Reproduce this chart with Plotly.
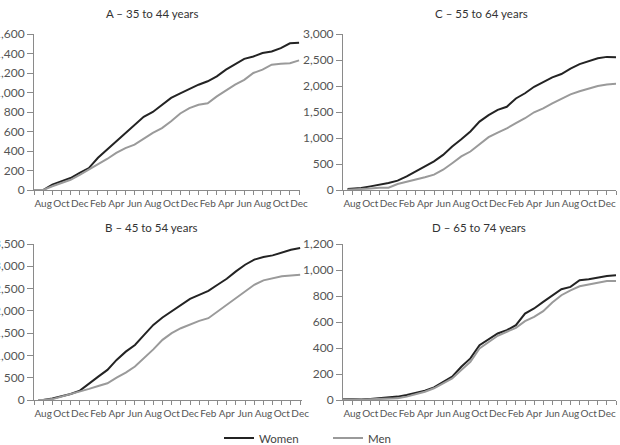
import plotly.graph_objects as go

# ---- data (cumulative counts by month; month 0 = July of year 1) ----
tick_months = list(range(0, 31))
tick_names = ["Jul", "Aug", "Sep", "Oct", "Nov", "Dec", "Jan", "Feb", "Mar", "Apr", "May", "Jun",
              "Jul", "Aug", "Sep", "Oct", "Nov", "Dec", "Jan", "Feb", "Mar", "Apr", "May", "Jun",
              "Jul", "Aug", "Sep", "Oct", "Nov", "Dec", "Jan"]

months_A = list(range(0, 30))
women_A = [0, 0, 55, 90, 123, 175, 225, 330, 415, 500, 585, 670, 750, 800, 875, 945, 990, 1035,
           1080, 1115, 1165, 1235, 1290, 1345, 1370, 1405, 1420, 1455, 1505, 1510]
men_A = [0, 0, 38, 72, 105, 155, 210, 260, 318, 380, 430, 465, 525, 585, 635, 705, 785, 840,
         875, 890, 960, 1020, 1080, 1130, 1200, 1235, 1285, 1295, 1300, 1330]

months_B = [0.5] + list(range(1, 30))
women_B = [0, 0, 35, 90, 135, 210, 375, 525, 675, 900, 1085, 1235, 1460, 1685, 1850, 1985, 2135,
           2270, 2360, 2450, 2585, 2720, 2885, 3035, 3150, 3210, 3245, 3310, 3370, 3410]
men_B = [0, 0, 20, 75, 135, 190, 250, 315, 375, 500, 615, 750, 935, 1135, 1350, 1500, 1610,
         1700, 1775, 1835, 1985, 2135, 2285, 2435, 2585, 2685, 2735, 2775, 2795, 2810]

months_C = [0.5] + list(range(1, 31))
women_C = [20, 25, 38, 70, 100, 135, 180, 260, 360, 450, 550, 675, 835, 975, 1125, 1315, 1440,
           1540, 1600, 1760, 1860, 1985, 2080, 2165, 2230, 2335, 2420, 2485, 2535, 2560, 2555]
men_C = [5, 8, 20, 30, 45, 45, 115, 155, 200, 245, 295, 390, 515, 645, 740, 885, 1015, 1105,
         1185, 1285, 1380, 1495, 1570, 1665, 1750, 1840, 1900, 1955, 2000, 2030, 2045]

months_D = list(range(0, 31))
women_D = [8, 5, 3, 8, 13, 18, 26, 38, 56, 72, 97, 141, 179, 256, 320, 422, 468, 512, 537, 576,
           665, 704, 755, 806, 852, 870, 921, 929, 941, 954, 959]
men_D = [5, 3, 0, 5, 8, 10, 13, 26, 44, 64, 90, 128, 166, 230, 294, 396, 448, 494, 525, 555,
         606, 640, 683, 750, 806, 844, 875, 890, 903, 916, 916]

titles = ["A \u2013 35 to 44 years", "B \u2013 45 to 54 years",
          "C \u2013 55 to 64 years", "D \u2013 65 to 74 years"]
y_ticks_A = [0, 200, 400, 600, 800, 1000, 1200, 1400, 1600]
y_ticks_B = [0, 500, 1000, 1500, 2000, 2500, 3000, 3500]
y_ticks_C = [0, 500, 1000, 1500, 2000, 2500, 3000]
y_ticks_D = [0, 200, 400, 600, 800, 1000, 1200]

# ---- figure ----
W, H = 620, 445
FONT = "Lato"
WOMEN_COLOR = "#232323"
MEN_COLOR = "#9a9a9a"
AXIS_COLOR = "#8a8a8a"
TEXT_COLOR = "#555555"


def px_x(p):
    return p / W


def px_y(p):
    return 1 - p / H


panels = [
    ("x", "y", months_A, women_A, men_A, y_ticks_A, [0, 29.1], (34, 300), (34, 190), (152, 14)),
    ("x2", "y2", months_C, women_C, men_C, y_ticks_C, [0, 30], (343, 616), (34, 190), (481, 14)),
    ("x3", "y3", months_B, women_B, men_B, y_ticks_B, [0, 29.2], (34, 302), (244, 400), (151, 228)),
    ("x4", "y4", months_D, women_D, men_D, y_ticks_D, [0, 30], (343, 616), (244, 400), (479, 228)),
]
panel_titles = [titles[0], titles[2], titles[1], titles[3]]

fig = go.Figure()
layout = dict(
    width=W, height=H,
    margin=dict(l=0, r=0, t=0, b=0, autoexpand=False),
    paper_bgcolor="white", plot_bgcolor="white",
    font=dict(family=FONT, size=10.5, color=TEXT_COLOR),
    showlegend=True,
    legend=dict(orientation="h", x=px_x(219), xanchor="left", y=px_y(438), yanchor="middle",
                font=dict(size=11.5, color="#444444"), itemwidth=30,
                entrywidth=64, entrywidthmode="pixels",
                bgcolor="rgba(0,0,0,0)"),
    annotations=[],
)

tick_text = [n if m % 2 == 1 else "" for m, n in zip(tick_months, tick_names)]

for i, (xa, ya, months, women, men, yticks, xr, xs, ys, tpos) in enumerate(panels):
    fig.add_trace(go.Scatter(x=months, y=women, mode="lines", name="Women",
                             line=dict(color=WOMEN_COLOR, width=2),
                             xaxis=xa, yaxis=ya, showlegend=(i == 0)))
    fig.add_trace(go.Scatter(x=months, y=men, mode="lines", name="Men",
                             line=dict(color=MEN_COLOR, width=2),
                             xaxis=xa, yaxis=ya, showlegend=(i == 0)))
    xkey = "xaxis" if xa == "x" else "xaxis" + xa[1:]
    ykey = "yaxis" if ya == "y" else "yaxis" + ya[1:]
    layout[xkey] = dict(
        domain=[px_x(xs[0]), px_x(xs[1])], anchor=ya, range=xr,
        tickmode="array", tickvals=tick_months, ticktext=tick_text, tickangle=0,
        ticks="outside", ticklen=4, tickcolor=AXIS_COLOR, tickwidth=1,
        showline=True, linecolor=AXIS_COLOR, linewidth=1,
        showgrid=False, zeroline=False, automargin=False,
        tickfont=dict(size=10, color=TEXT_COLOR, family=FONT),
    )
    layout[ykey] = dict(
        domain=[px_y(ys[1]), px_y(ys[0])], anchor=xa, range=[0, yticks[-1]],
        tickmode="array", tickvals=yticks, tickformat=",d",
        ticks="outside", ticklen=6, tickcolor=AXIS_COLOR, tickwidth=1,
        showline=True, linecolor=AXIS_COLOR, linewidth=1,
        showgrid=False, zeroline=False, automargin=False,
        tickfont=dict(size=12, color=TEXT_COLOR, family=FONT),
    )
    layout["annotations"].append(dict(
        text=panel_titles[i], x=px_x(tpos[0]), y=px_y(tpos[1]), xref="paper", yref="paper",
        xanchor="center", yanchor="middle", showarrow=False,
        font=dict(size=11.5, color="#333333", family=FONT)))

fig.update_layout(**layout)
fig.write_html("out.html")
